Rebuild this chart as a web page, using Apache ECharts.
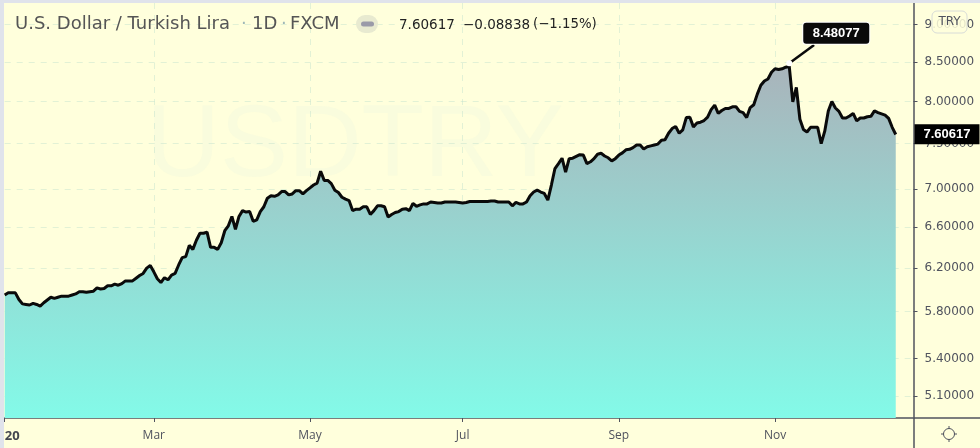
<!DOCTYPE html>
<html><head><meta charset="utf-8">
<style>html,body{margin:0;padding:0;background:#ffffdc}#c{width:980px;height:448px}</style>
<script src="https://cdn.jsdelivr.net/npm/echarts@6/dist/echarts.min.js"></script>
</head><body><div id="c"></div>
<script>
const closeA = [5.95,5.97,5.97,5.97,5.91,5.87,5.865,5.86,5.875,5.865,5.85,5.88,5.905,5.93,5.92,5.93,5.94,5.94,5.94,5.95,5.96,5.98,5.98,5.975,5.98,5.985,6.015,6.005,6.01,6.035,6.035,6.05,6.04,6.055,6.08,6.08,6.08,6.105,6.13,6.15,6.20,6.225,6.165,6.10,6.065,6.11,6.09,6.135,6.15];
const closeB = [6.23,6.30,6.31,6.42,6.38,6.47,6.54,6.54,6.55,6.40,6.40,6.38,6.445,6.565,6.615,6.71,6.58,6.71,6.77,6.755,6.76,6.66,6.675,6.76,6.81,6.90,6.925,6.92,6.935,6.97,6.97,6.935,6.945,6.98,6.98,6.945,6.98,7.01,7.04,7.06,7.19,7.09,7.09,7.055,6.985,6.96,6.91,6.89,6.875];
const closeC = [6.77,6.785,6.785,6.81,6.81,6.73,6.77,6.82,6.82,6.81,6.705,6.73,6.75,6.76,6.785,6.79,6.77,6.845,6.815,6.83,6.84,6.84,6.86,6.855,6.85,6.85,6.86,6.86,6.86,6.86,6.855,6.85,6.855,6.865,6.865,6.865,6.865,6.865,6.865,6.87,6.87,6.86,6.86,6.86,6.86,6.82,6.855,6.84,6.84,6.86,6.925,6.965,6.985,6.965,6.95,6.88];
const closeD = [7.04,7.22,7.275,7.335,7.18,7.33,7.335,7.355,7.375,7.37,7.275,7.295,7.33,7.38,7.39,7.36,7.34,7.305,7.33,7.37,7.395,7.43,7.435,7.455,7.485,7.485,7.44,7.465,7.475,7.485,7.495,7.54,7.545,7.62,7.675,7.70,7.62,7.66,7.805,7.81,7.695,7.74,7.75,7.77,7.81,7.90,7.955,7.855,7.89,7.915,7.915];
const closeE = [7.935,7.935,7.88,7.865,7.805,7.925,7.96,8.09,8.20,8.255,8.28,8.365,8.41,8.40,8.41,8.43,8.44,7.995,8.175,7.785,7.665,7.635,7.69,7.69,7.69,7.50,7.645,7.885,8.00,7.92,7.88,7.80,7.80,7.825,7.855,7.765,7.80,7.80,7.815,7.82,7.885,7.865,7.85,7.835,7.795,7.69,7.60617];
const closes = [].concat(closeA, closeB, closeC, closeD, closeE);
const slotCount = 257;
const categories = Array.from({length: slotCount}, (_, i) => String(i));
const monthIndex = [0, 42, 86, 129, 173, 217];
const monthLabels = ['20', 'Mar', 'May', 'Jul', 'Sep', 'Nov'];
const priceTicks = [5.1, 5.4, 5.8, 6.2, 6.6, 7, 7.5, 8, 8.5, 9];
const lastPrice = 7.60617, highPrice = 8.48077, highIndex = 221;
const pinEndIndex = 227.5, pinEndPrice = 8.72;

const axisCol = '#50535e', gridCol = 'rgba(190,225,205,0.45)', titleCol = '#555555';
const chart = echarts.init(document.getElementById('c'));
const isMonth = i => monthIndex.indexOf(i) >= 0;
const head = (text, x, y, fontSize, fill) => ({type: 'text', z: 20, silent: true,
  style: {text, x, y, verticalAlign: 'middle', fontSize, fontFamily: 'DejaVu Sans', fill}});
chart.setOption({
  animation: false,
  backgroundColor: '#ffffdc',
  grid: {left: 4.7, right: 66.5, top: 3, bottom: 30},
  xAxis: {
    type: 'category', data: categories, boundaryGap: false,
    axisLine: {lineStyle: {color: axisCol, width: 1.5}},
    axisTick: {interval: i => isMonth(i), length: 4, lineStyle: {color: axisCol}},
    axisLabel: {interval: i => isMonth(i), showMinLabel: true, alignMinLabel: 'left', margin: 12,
      formatter: (v, i) => { const k = monthIndex.indexOf(i); return k === 0 ? '{b|' + monthLabels[0] + '}' : (k > 0 ? monthLabels[k] : ''); },
      color: axisCol, fontFamily: 'Open Sans', fontSize: 12,
      rich: {b: {fontWeight: 'bold', color: '#43464f', fontFamily: 'Open Sans', fontSize: 13}}},
    splitLine: {show: true, interval: i => isMonth(i) && i > 0, lineStyle: {color: gridCol, type: [6, 6]}}
  },
  yAxis: {
    type: 'log', logBase: 10, position: 'right', min: 4.93, max: 9.30,
    axisLine: {show: true, lineStyle: {color: axisCol, width: 1.5}},
    axisTick: {show: true, length: 4, customValues: priceTicks, lineStyle: {color: axisCol}},
    minorTick: {show: false}, minorSplitLine: {show: false},
    axisLabel: {customValues: priceTicks, margin: 11, color: axisCol, fontFamily: 'DejaVu Sans', fontSize: 12,
      formatter: v => Number(v).toFixed(5)},
    splitLine: {show: true, lineStyle: {color: gridCol, type: [6, 6]}}
  },
  series: [{
    type: 'line', data: closes, showSymbol: false, smooth: false, z: 3,
    lineStyle: {color: '#0a0a0a', width: 3},
    areaStyle: {opacity: 1, origin: 'start', color: new echarts.graphic.LinearGradient(0, 0, 0, 1, [
      {offset: 0, color: '#a9b4bb'}, {offset: 1, color: '#83fae8'}])},
    markLine: {
      silent: true, symbol: 'none', animation: false,
      data: [
        {yAxis: lastPrice, lineStyle: {color: 'rgba(0,0,0,0)', width: 0}, label: {show: true, position: 'end', distance: 1,
          formatter: () => lastPrice.toFixed(5), backgroundColor: '#000', color: '#fff', fontWeight: 'bold',
          fontFamily: 'Liberation Sans', fontSize: 13, align: 'left', padding: [4, 9, 3, 9]}},
        [{coord: [highIndex, highPrice], lineStyle: {color: '#0a0a0a', width: 2.5, type: 'solid'}, label: {show: false}},
         {coord: [pinEndIndex, pinEndPrice]}]
      ]
    },
    markPoint: {
      silent: true, animation: false,
      data: [{coord: [highIndex, highPrice], symbol: 'circle', symbolSize: 6,
        itemStyle: {color: '#fff'},
        label: {show: true, position: 'inside', offset: [47, -30], formatter: () => highPrice.toFixed(5),
          backgroundColor: '#0a0a0a', borderColor: '#fff', borderWidth: 1, borderRadius: 3,
          color: '#fff', fontWeight: 'bold', fontFamily: 'Liberation Sans', fontSize: 13,
          width: 66, height: 21, lineHeight: 21, align: 'center', padding: 0}}]
    }
  }],
  graphic: [
    {type: 'text', z: -10, silent: true, style: {text: 'USDTRY', x: 355, y: 148, align: 'center', verticalAlign: 'middle', fontSize: 102, fontFamily: 'Liberation Sans', fill: 'rgba(230,245,225,0.25)'}},
    {type: 'rect', z: 20, silent: true, shape: {x: 0, y: 0, width: 4, height: 448}, style: {fill: '#e0e3eb'}},
    {type: 'rect', z: 20, silent: true, shape: {x: 0, y: 0, width: 980, height: 3}, style: {fill: '#e0e3eb'}},
    {type: 'line', z: 20, silent: true, shape: {x1: 914, y1: 418, x2: 980, y2: 418}, style: {stroke: axisCol, lineWidth: 1.5}},
    {type: 'line', z: 20, silent: true, shape: {x1: 914, y1: 418, x2: 914, y2: 448}, style: {stroke: axisCol, lineWidth: 1.5}},
    head('U.S. Dollar / Turkish Lira', 15, 24, 18, titleCol),
    head('·', 241, 24, 18, '#9fb8b8'),
    head('1D', 252, 24, 18, titleCol),
    head('·', 281, 24, 18, '#9fb8b8'),
    head('FXCM', 290, 24, 18, titleCol),
    {type: 'rect', z: 20, silent: true, shape: {x: 356, y: 15, width: 22, height: 18, r: 9}, style: {fill: '#e8ead0'}},
    {type: 'rect', z: 21, silent: true, shape: {x: 361, y: 21.5, width: 13, height: 5, r: 2.5}, style: {fill: '#9a9aa8'}},
    head('7.60617', 399, 25, 13.5, '#222'),
    head('−0.08838', 463, 25, 13.5, '#222'),
    head('(−1.15%)', 533, 25, 13.3, '#222'),
    {type: 'rect', z: 30, silent: true, shape: {x: 932, y: 11, width: 35, height: 22, r: 5}, style: {fill: 'rgba(255,255,220,0.85)', stroke: '#d8dcd8'}},
    {type: 'text', z: 31, silent: true, style: {text: 'TRY', x: 949.5, y: 22, align: 'center', verticalAlign: 'middle', fontSize: 12, fontFamily: 'DejaVu Sans', fill: '#50535e'}},
    {type: 'circle', z: 20, silent: true, shape: {cx: 949, cy: 434, r: 5.5}, style: {fill: 'none', stroke: '#50535e', lineWidth: 1}},
    {type: 'line', z: 20, silent: true, shape: {x1: 949, y1: 426, x2: 949, y2: 429}, style: {stroke: '#50535e'}},
    {type: 'line', z: 20, silent: true, shape: {x1: 949, y1: 439, x2: 949, y2: 442}, style: {stroke: '#50535e'}},
    {type: 'line', z: 20, silent: true, shape: {x1: 941, y1: 434, x2: 944, y2: 434}, style: {stroke: '#50535e'}},
    {type: 'line', z: 20, silent: true, shape: {x1: 954, y1: 434, x2: 957, y2: 434}, style: {stroke: '#50535e'}}
  ]
});
</script></body></html>
